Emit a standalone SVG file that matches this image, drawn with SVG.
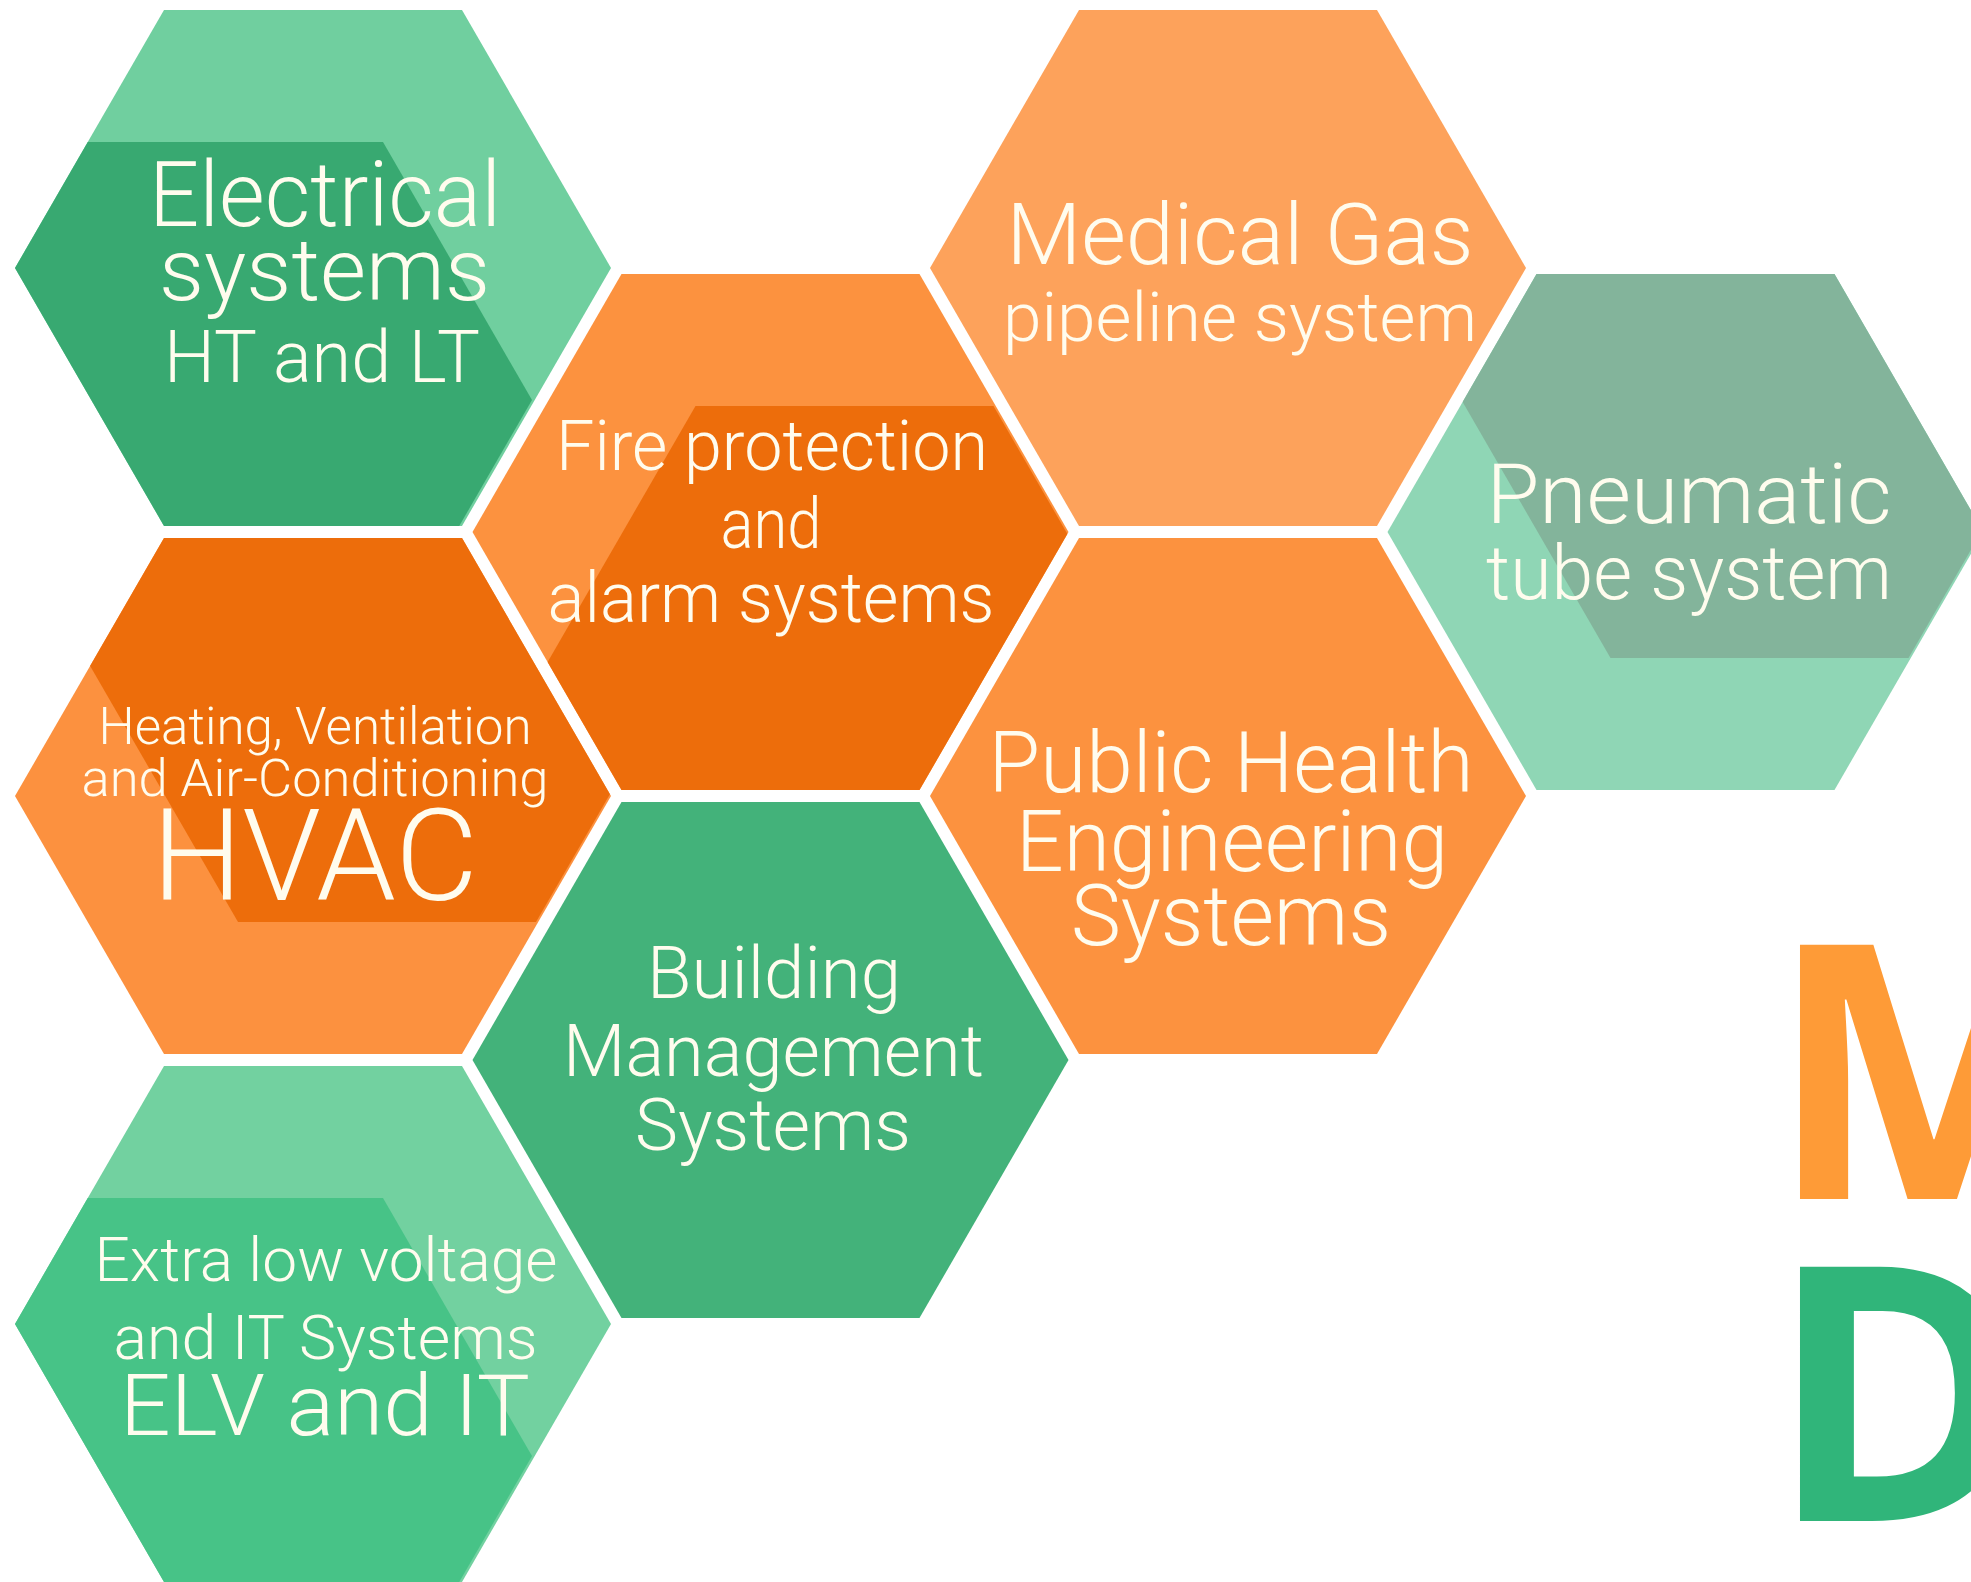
<svg xmlns="http://www.w3.org/2000/svg" xmlns:xlink="http://www.w3.org/1999/xlink" width="1971" height="1582" viewBox="0 0 1971 1582">
  <style>
    .lbl { font-family: "Roboto Light", Roboto, "Liberation Sans", sans-serif; font-weight: 300; fill: #FFFCEE; text-anchor: middle; }
    .big { font-family: "Open Sans", "Noto Sans", "DejaVu Sans", sans-serif; font-weight: 700; }
  </style>
  <defs>
    <polygon id="hex" points="-298,0 -149,-258 149,-258 298,0 149,258 -149,258"/>
    <clipPath id="hexclip" clipPathUnits="userSpaceOnUse">
      <polygon points="-298,0 -149,-258 149,-258 298,0 149,258 -149,258"/>
    </clipPath>
  </defs>
  <rect width="1971" height="1582" fill="#FFFFFF"/>

  <g id="node-electrical">
    <g transform="translate(313,268)">
      <use xlink:href="#hex" fill="#70CF9F"/>
      <g clip-path="url(#hexclip)"><use xlink:href="#hex" x="-79" y="132" fill="#38A971"/></g>
    </g>
    <text class="lbl" x="325" y="226" font-size="90" textLength="352" lengthAdjust="spacingAndGlyphs">Electrical</text>
    <text class="lbl" x="324.5" y="300" font-size="88" textLength="331" lengthAdjust="spacingAndGlyphs">systems</text>
    <text class="lbl" x="322" y="382" font-size="72" textLength="316" lengthAdjust="spacingAndGlyphs">HT and LT</text>
  </g>

  <g id="node-fire">
    <g transform="translate(770.5,532)">
      <use xlink:href="#hex" fill="#FC923F"/>
      <g clip-path="url(#hexclip)"><use xlink:href="#hex" x="74" y="132" fill="#ED6D0B"/></g>
    </g>
    <text class="lbl" x="772" y="470" font-size="70" textLength="432" lengthAdjust="spacingAndGlyphs">Fire protection</text>
    <text class="lbl" x="771" y="548" font-size="70" textLength="101" lengthAdjust="spacingAndGlyphs">and</text>
    <text class="lbl" x="771" y="622" font-size="70" textLength="447" lengthAdjust="spacingAndGlyphs">alarm systems</text>
  </g>

  <g id="node-medical-gas">
    <g transform="translate(1228,268)">
      <use xlink:href="#hex" fill="#FDA25B"/>
    </g>
    <text class="lbl" x="1240" y="264" font-size="86" textLength="467" lengthAdjust="spacingAndGlyphs">Medical Gas</text>
    <text class="lbl" x="1240" y="341" font-size="68" textLength="474" lengthAdjust="spacingAndGlyphs">pipeline system</text>
  </g>

  <g id="node-pneumatic">
    <g transform="translate(1685.5,532)">
      <use xlink:href="#hex" fill="#8FD6B5"/>
      <g clip-path="url(#hexclip)"><use xlink:href="#hex" x="74" y="-132" fill="#83B49B"/></g>
    </g>
    <text class="lbl" x="1689" y="523" font-size="84" textLength="405" lengthAdjust="spacingAndGlyphs">Pneumatic</text>
    <text class="lbl" x="1689" y="599" font-size="76" textLength="406" lengthAdjust="spacingAndGlyphs">tube system</text>
  </g>

  <g id="node-hvac">
    <g transform="translate(313,796)">
      <use xlink:href="#hex" fill="#FC913F"/>
      <g clip-path="url(#hexclip)"><use xlink:href="#hex" x="74" y="-132" fill="#ED6D0B"/></g>
    </g>
    <text class="lbl" x="315" y="744" font-size="52" textLength="433" lengthAdjust="spacingAndGlyphs">Heating, Ventilation</text>
    <text class="lbl" x="315" y="796" font-size="52" textLength="467" lengthAdjust="spacingAndGlyphs">and Air-Conditioning</text>
    <text class="lbl" x="315" y="900" font-size="128" textLength="326" lengthAdjust="spacingAndGlyphs">HVAC</text>
  </g>

  <g id="node-public-health">
    <g transform="translate(1228,796)">
      <use xlink:href="#hex" fill="#FC923F"/>
    </g>
    <text class="lbl" x="1231" y="792" font-size="86" textLength="485" lengthAdjust="spacingAndGlyphs">Public Health</text>
    <text class="lbl" x="1232" y="871" font-size="86" textLength="432" lengthAdjust="spacingAndGlyphs">Engineering</text>
    <text class="lbl" x="1231" y="945" font-size="86" textLength="320" lengthAdjust="spacingAndGlyphs">Systems</text>
  </g>

  <g id="node-bms">
    <g transform="translate(770.5,1060)">
      <use xlink:href="#hex" fill="#43B27A"/>
    </g>
    <text class="lbl" x="774" y="998" font-size="72" textLength="254" lengthAdjust="spacingAndGlyphs">Building</text>
    <text class="lbl" x="773.5" y="1076" font-size="72" textLength="421" lengthAdjust="spacingAndGlyphs">Management</text>
    <text class="lbl" x="773" y="1150" font-size="72" textLength="276" lengthAdjust="spacingAndGlyphs">Systems</text>
  </g>

  <g id="node-elv">
    <g transform="translate(313,1324)">
      <use xlink:href="#hex" fill="#72D1A0"/>
      <g clip-path="url(#hexclip)"><use xlink:href="#hex" x="-79" y="132" fill="#47C387"/></g>
    </g>
    <text class="lbl" x="326" y="1281" font-size="62" textLength="463" lengthAdjust="spacingAndGlyphs">Extra low voltage</text>
    <text class="lbl" x="325.5" y="1359" font-size="62" textLength="424" lengthAdjust="spacingAndGlyphs">and IT Systems</text>
    <text class="lbl" x="325" y="1435" font-size="86" textLength="410" lengthAdjust="spacingAndGlyphs">ELV and IT</text>
  </g>

  <g id="connectors"></g>

  <g id="title">
    <text class="big" x="1768" y="1199" font-size="356" fill="#FE9B37">M</text>
    <text class="big" x="1768" y="1521" font-size="356" fill="#30B57A">D</text>
  </g>
</svg>
